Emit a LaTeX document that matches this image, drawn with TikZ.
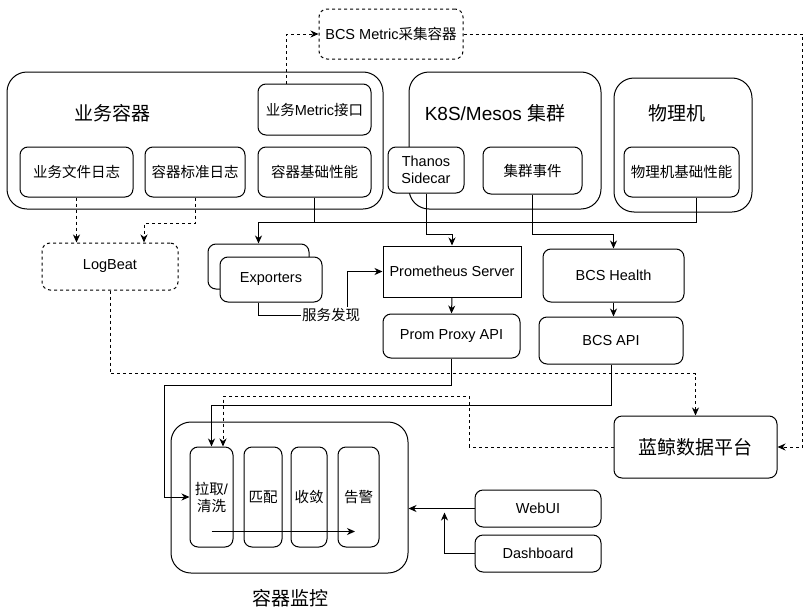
\documentclass[tikz,border=0pt]{standalone}
\usepackage{fontspec}
\setmainfont{Liberation Sans}
\newfontfamily\cjk{Noto Sans CJK SC}
\newcommand{\zh}[1]{{\cjk #1}}
\usepackage{tikz}
\usetikzlibrary{calc,arrows.meta,positioning}
\tikzset{
  box/.style={draw, fill=white, line width=1pt, rounded corners=8pt, align=center, inner sep=0pt, font=\fontsize{14.5}{17}\selectfont},
  sqbox/.style={box, sharp corners},
  dbox/.style={box, dash pattern=on 3pt off 3pt},
  group/.style={draw, line width=1pt, rounded corners=20pt, inner sep=0pt},
  title/.style={font=\fontsize{19}{22}\selectfont},
  link/.style={line width=1pt},
  arr/.style={link, -{Stealth[length=8pt,width=7pt,inset=2.5pt]}},
  darr/.style={arr, dash pattern=on 3pt off 3pt},
  lbl/.style={fill=white, inner sep=1pt, font=\fontsize{14.5}{17}\selectfont}
}
\begin{document}
\begin{tikzpicture}[x=1pt,y=-1pt]
  \useasboundingbox (0,0) rectangle (808,613);
  \node[group, minimum width=376, minimum height=137] (biz) at (195,140.5) {};
  \node[title] (biztitle) at (112,113) {\zh{业务容器}};
  \node[group, minimum width=192, minimum height=137] (k8s) at (505,140.5) {};
  \node[title] (k8stitle) at (495,113) {K8S/Mesos \zh{集群}};
  \node[group, minimum width=138, minimum height=134] (phys) at (683,145) {};
  \node[title] (phystitle) at (677,113) {\zh{物理机}};
  \node[group, minimum width=237, minimum height=151] (monitor) at (289.5,497.5) {};
  \node[title] (montitle) at (290,598) {\zh{容器监控}};

  \node[dbox, minimum width=144, minimum height=50] (bcsmetric) at (391,34) {BCS Metric\zh{采集容器}};
  \node[box, minimum width=113, minimum height=51] (bizmetric) at (314.5,109.5) {\zh{业务}Metric\zh{接口}};
  \node[box, minimum width=113, minimum height=50] (bizlog) at (76.5,172) {\zh{业务文件日志}};
  \node[box, minimum width=100, minimum height=50] (stdlog) at (195,172) {\zh{容器标准日志}};
  \node[box, minimum width=113, minimum height=50] (perf) at (314.5,172) {\zh{容器基础性能}};
  \node[box, minimum width=76, minimum height=46] (thanos) at (426,170) {Thanos\\Sidecar};
  \node[box, minimum width=99, minimum height=47] (events) at (532.5,170.5) {\zh{集群事件}};
  \node[box, minimum width=115, minimum height=50] (physperf) at (681.5,172) {\zh{物理机基础性能}};

  \node[dbox, minimum width=136, minimum height=47] (logbeat) at (110,266.5) {LogBeat};
  \node[box, minimum width=101, minimum height=45] (expback) at (258.5,266.5) {};
  \node[box, minimum width=102, minimum height=45] (expfront) at (271,279.5) {Exporters};
  \node[sqbox, minimum width=138, minimum height=51] (prom) at (452,271.5) {Prometheus Server};
  \node[box, minimum width=137, minimum height=44] (promproxy) at (451.5,336) {Prom Proxy API};
  \node[box, minimum width=141, minimum height=53] (health) at (613.5,275.5) {BCS Health};
  \node[box, minimum width=144, minimum height=47] (bcsapi) at (611,340.5) {BCS API};
  \node[box, minimum width=163, minimum height=62, font=\fontsize{19}{22}\selectfont] (bkdata) at (695.5,447) {\zh{蓝鲸数据平台}};

  \node[box, minimum width=43, minimum height=100] (pull) at (211.5,497) {\zh{拉取}/\\\zh{清洗}};
  \node[box, minimum width=38, minimum height=100] (match) at (263,497) {\zh{匹配}};
  \node[box, minimum width=36, minimum height=100] (converge) at (309,497) {\zh{收敛}};
  \node[box, minimum width=41, minimum height=100] (alarm) at (358.5,497) {\zh{告警}};
  \node[box, minimum width=126, minimum height=37] (webui) at (538,508.5) {WebUI};
  \node[box, minimum width=126, minimum height=37] (dashboard) at (538,553.5) {Dashboard};

  \draw[darr] (bizmetric.north west) ++(29,0) |- (bcsmetric.west);
  \draw[darr] (bcsmetric.east) -- ++(339,0) |- (bkdata.east);
  \draw[darr] (bizlog.south) -- (bizlog.south |- logbeat.north);
  \draw[darr] (stdlog.south) -- ++(0,26) -| ($(logbeat.north)+(34,0)$);
  \draw[arr] ($(physperf.south)+(15,0)$) -- ++(0,25) -| (expback.north);
  \draw[link] (perf.south) -- ++(0,25);
  \draw[arr] (thanos.south) -- ++(0,41) -| (prom.north);
  \draw[arr] (events.south) -- ++(0,40) -| (health.north);
  \draw[arr] (prom.south) -- (promproxy.north);
  \draw[arr] (health.south) -- (health.south |- bcsapi.north);
  \draw[arr] ($(expfront.south west)+(39,0)$) |- (347,315) |- (prom.west);
  \node[lbl] (disc) at (331,315) {\zh{服务发现}};
  \draw[darr] (logbeat.south) -- ++(0,83) -| (bkdata.north);
  \draw[arr] (promproxy.south) -- ++(0,27) -| ($(pull.west)+(-25,0)$) -- (pull.west);
  \draw[arr] (bcsapi.south) -- ++(0,41) -| (pull.north);
  \draw[darr] (bkdata.west) -- ++(-144,0) |- ($(pull.north)+(11.5,-50)$) -- ($(pull.north)+(11.5,0)$);
  \draw[arr] (webui.west) -- (webui.west -| monitor.east);
  \draw[arr] (dashboard.west) -| ($(webui.west)+(-30,4)$);
  \draw[arr] ($(pull.south)+(0,-16)$) -- ($(alarm.south)+(-3.5,-16)$);
\end{tikzpicture}
\end{document}
